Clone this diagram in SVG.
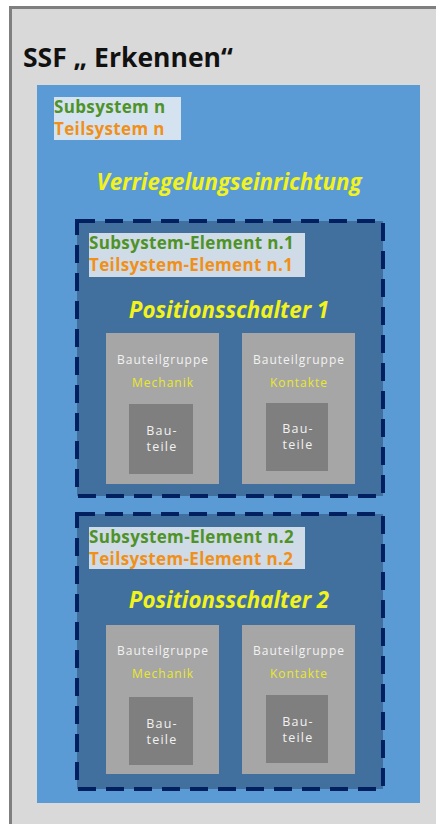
<svg xmlns="http://www.w3.org/2000/svg" width="436" height="824" viewBox="0 0 436 824">
<style>
text{font-family:"Open Sans","Noto Sans","Liberation Sans",sans-serif}
.title{font-size:26.5px;font-weight:700;fill:#111}
.g{font-size:17px;letter-spacing:0.35px;font-weight:700;fill:#4f9227}
.o{font-size:17px;letter-spacing:0.35px;font-weight:700;fill:#f0901a}
.h{font-size:22.3px;font-weight:700;font-style:italic;fill:#f2f21c;text-anchor:middle}
.bg{font-size:12px;letter-spacing:1px;fill:#f2f2f2;text-anchor:middle}
.y{font-size:12px;letter-spacing:1px;fill:#e9e92a;text-anchor:middle}
.bt{font-size:12.5px;letter-spacing:1.2px;fill:#f2f2f2;text-anchor:middle}
.lbl1{fill:#d5e3f1}
.lbl2{fill:#cfdbe7}
.el{fill:#41709e;stroke:#002060;stroke-width:4;stroke-dasharray:18 10}
.grp{fill:#a6a6a6}
.part{fill:#7f7f7f}
</style>
<g id="frame">
<rect x="10.5" y="7.5" width="440" height="830" fill="#d9d9d9" stroke="#7f7f7f" stroke-width="3"/>
<text class="title" x="23" y="67">SSF „ Erkennen“</text>
</g>
<g id="subsystem">
<rect x="37" y="85" width="383" height="718" fill="#5b9bd5"/>
<rect class="lbl1" x="54" y="97" width="127" height="43"/>
<text class="g" x="54" y="113">Subsystem n</text>
<text class="o" x="54" y="135">Teilsystem n</text>
<text class="h" x="229" y="190">Verriegelungseinrichtung</text>
</g>
<g id="element1">
<rect class="el" x="77" y="221" width="306" height="275"/>
<rect class="lbl2" x="89" y="233" width="216" height="44"/>
<text class="g" x="89" y="249">Subsystem-Element n.1</text>
<text class="o" x="89" y="271">Teilsystem-Element n.1</text>
<text class="h" x="229" y="318">Positionsschalter 1</text>
</g>
<g id="mechanik1">
<rect class="grp" x="106" y="333" width="113" height="151"/>
<text class="bg" x="163" y="364">Bauteilgruppe</text>
<text class="y" x="163" y="387">Mechanik</text>
<rect class="part" x="129" y="404" width="64" height="70"/>
<text class="bt" x="162" y="435">Bau-</text>
<text class="bt" x="162" y="451">teile</text>
</g>
<g id="kontakte1">
<rect class="grp" x="242" y="333" width="113" height="151"/>
<text class="bg" x="299" y="364">Bauteilgruppe</text>
<text class="y" x="299" y="387">Kontakte</text>
<rect class="part" x="266" y="403" width="62" height="68"/>
<text class="bt" x="298" y="433">Bau-</text>
<text class="bt" x="298" y="449">teile</text>
</g>
<g id="element2">
<rect class="el" x="77" y="514" width="306" height="275"/>
<rect class="lbl2" x="89" y="527" width="216" height="42"/>
<text class="g" x="89" y="543">Subsystem-Element n.2</text>
<text class="o" x="89" y="565">Teilsystem-Element n.2</text>
<text class="h" x="229" y="608">Positionsschalter 2</text>
</g>
<g id="mechanik2">
<rect class="grp" x="106" y="625" width="113" height="149"/>
<text class="bg" x="163" y="655">Bauteilgruppe</text>
<text class="y" x="163" y="678">Mechanik</text>
<rect class="part" x="129" y="697" width="64" height="68"/>
<text class="bt" x="162" y="728">Bau-</text>
<text class="bt" x="162" y="744">teile</text>
</g>
<g id="kontakte2">
<rect class="grp" x="242" y="625" width="113" height="149"/>
<text class="bg" x="299" y="655">Bauteilgruppe</text>
<text class="y" x="299" y="678">Kontakte</text>
<rect class="part" x="266" y="695" width="62" height="68"/>
<text class="bt" x="298" y="726">Bau-</text>
<text class="bt" x="298" y="742">teile</text>
</g>
<g id="connectors"></g>
</svg>
